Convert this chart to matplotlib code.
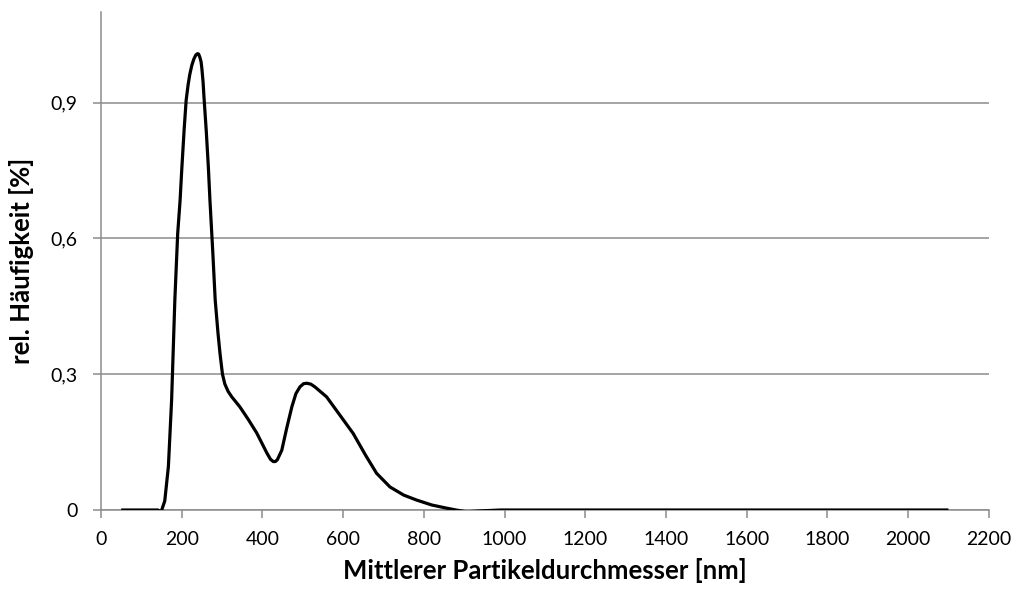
import matplotlib
matplotlib.use("Agg")
import matplotlib.pyplot as plt
from matplotlib.ticker import FuncFormatter

# Data
diameter_nm = [50, 100, 141, 149, 158, 167, 175, 183, 190, 196, 200, 206, 211, 216, 220, 225, 230, 235, 239,
               242, 245, 248, 250, 253, 255, 261, 266, 270, 277, 283, 290, 295, 301, 307, 315, 324, 344, 365, 386, 411, 420, 427,
               432, 437, 448, 460, 473, 483, 493, 502, 510, 520, 530, 559, 590, 625, 655, 683, 716, 750, 782, 820,
               857, 880, 906, 940, 990, 1200, 1500, 1800, 2100]
frequency = [0.0, 0.0, 0.0, -0.004, 0.02, 0.096, 0.243, 0.464, 0.61, 0.684, 0.75, 0.84, 0.905, 0.94, 0.962, 0.982, 0.996, 1.005, 1.008,
             1.007, 1.0, 0.99, 0.975, 0.945, 0.915, 0.835, 0.758, 0.684, 0.57, 0.464, 0.39, 0.345, 0.3, 0.278, 0.262, 0.25, 0.228, 0.2, 0.17, 0.126, 0.112, 0.107,
             0.107, 0.111, 0.132, 0.18, 0.228, 0.257, 0.272, 0.279, 0.28, 0.278, 0.272, 0.25, 0.212, 0.169, 0.122, 0.081, 0.051, 0.033, 0.022, 0.011,
             0.004, 0.0, -0.004, -0.002, 0.0, 0.0, 0.0, 0.0, 0.0]
y_ticks = [0, 0.3, 0.6, 0.9]
x_ticks = list(range(0, 2201, 200))

plt.rcParams['font.family'] = ['Lato', 'DejaVu Sans']

fig = plt.figure(figsize=(10.11, 5.92), dpi=100)
ax = fig.add_axes([0.0999, 0.1385, 0.978 - 0.0999, 0.9797 - 0.1385])

ax.plot(diameter_nm, frequency, color='black', linewidth=2.3, solid_joinstyle='round', solid_capstyle='butt', zorder=3)

ax.set_xlim(0, 2200)
ax.set_ylim(0, 1.1)
ax.set_xticks(x_ticks)
ax.set_yticks(y_ticks)
ax.yaxis.set_major_formatter(FuncFormatter(lambda v, p: '0' if v == 0 else f'{v:.1f}'.replace('.', ',')))

grid_col = '#8c8c8c'
ax.grid(axis='y', color=grid_col, linewidth=1.1, zorder=1)
for s in ['top', 'right']:
    ax.spines[s].set_visible(False)
for s in ['left', 'bottom']:
    ax.spines[s].set_color(grid_col)
    ax.spines[s].set_linewidth(1.1)
ax.tick_params(axis='x', direction='out', length=6, width=1.1, color=grid_col, labelsize=14, pad=9)
ax.tick_params(axis='y', direction='out', length=6, width=1.1, color=grid_col, labelsize=14, pad=11)

ax.set_xlabel('Mittlerer Partikeldurchmesser [nm]', fontsize=18.5, fontweight='bold', labelpad=7)
ax.set_ylabel('rel. Häufigkeit [%]', fontsize=18.5, fontweight='bold', labelpad=12)

fig.savefig('out.png', dpi=100)
